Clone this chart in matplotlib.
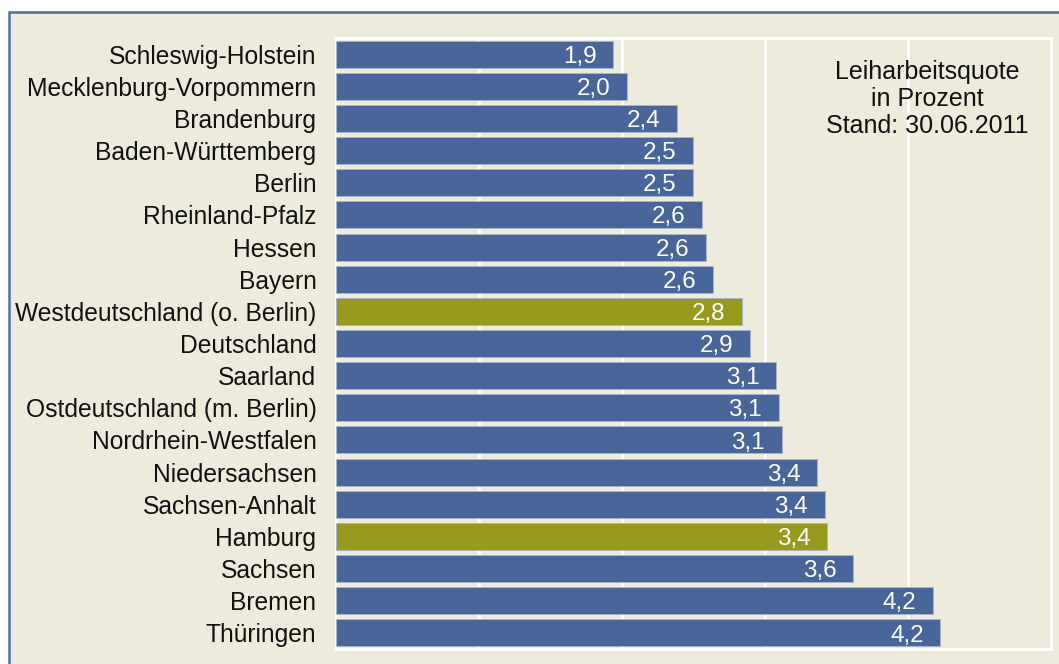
import matplotlib
matplotlib.use("Agg")
import matplotlib.pyplot as plt
from matplotlib.patches import Rectangle

categories = [
    "Schleswig-Holstein", "Mecklenburg-Vorpommern", "Brandenburg",
    "Baden-Württemberg", "Berlin", "Rheinland-Pfalz", "Hessen", "Bayern",
    "Westdeutschland (o. Berlin)", "Deutschland", "Saarland",
    "Ostdeutschland (m. Berlin)", "Nordrhein-Westfalen", "Niedersachsen",
    "Sachsen-Anhalt", "Hamburg", "Sachsen", "Bremen", "Thüringen",
]
values = [1.94, 2.04, 2.39, 2.50, 2.50, 2.56, 2.59, 2.64, 2.84, 2.90,
          3.08, 3.10, 3.12, 3.37, 3.42, 3.44, 3.62, 4.18, 4.23]
highlight = ["Westdeutschland (o. Berlin)", "Hamburg"]
info_text = "Leiharbeitsquote\nin Prozent\nStand: 30.06.2011"

BG = "#EDEBDC"
BLUE = "#48669A"
OLIVE = "#989A1E"
FRAME = "#4F6EA8"

plt.rcParams['font.family'] = ['Liberation Sans', 'DejaVu Sans']

W, H = 1059, 664
fig = plt.figure(figsize=(W / 100, H / 100), dpi=100)
fig.patch.set_facecolor("white")

# outer beige panel with blue frame (cropped at right/bottom)
panel = Rectangle((9 / W, -0.05), 1.2, (H - 12) / H + 0.05,
                  transform=fig.transFigure, facecolor=BG,
                  edgecolor=FRAME, linewidth=1.8, zorder=-10)
fig.patches.append(panel)

ax = fig.add_axes([335.5 / W, 1 - 649 / H, 715 / W, 611 / H])
ax.set_zorder(1)
ax.set_facecolor(BG)

y = list(range(len(categories)))
colors = [OLIVE if c in highlight else BLUE for c in categories]
bars = ax.barh(y, values, height=0.84, color=colors,
               edgecolor="#A9B5CB", linewidth=0.7, zorder=3)

for yi, v in zip(y, values):
    ax.annotate(f"{v:.1f}".replace(".", ","), xy=(v, yi),
                xytext=(-12.0, -6.2), textcoords="offset points",
                ha="right", va="baseline", color="white", fontsize=17.5,
                zorder=4)

ax.set_xlim(0, 5)
ax.set_ylim(len(categories) - 0.5, -0.5)
ax.set_xticks([1, 2, 3, 4])
ax.xaxis.grid(True, color="white", linewidth=2, zorder=1)
ax.set_axisbelow(True)
ax.tick_params(axis="x", length=0, labelbottom=False)
ax.set_yticks(y)
ax.set_yticklabels(categories, fontsize=17.7, color="#111111")
ax.tick_params(axis="y", length=0, pad=13.7)
for s in ax.spines.values():
    s.set_color("white")
    s.set_linewidth(2)

ax.text(927 / W, 1 - 99 / H, info_text, transform=fig.transFigure,
        ha="center", va="center", fontsize=18, color="#111111",
        linespacing=1.18, zorder=5)

fig.savefig("out.png", dpi=100, facecolor=fig.get_facecolor())
